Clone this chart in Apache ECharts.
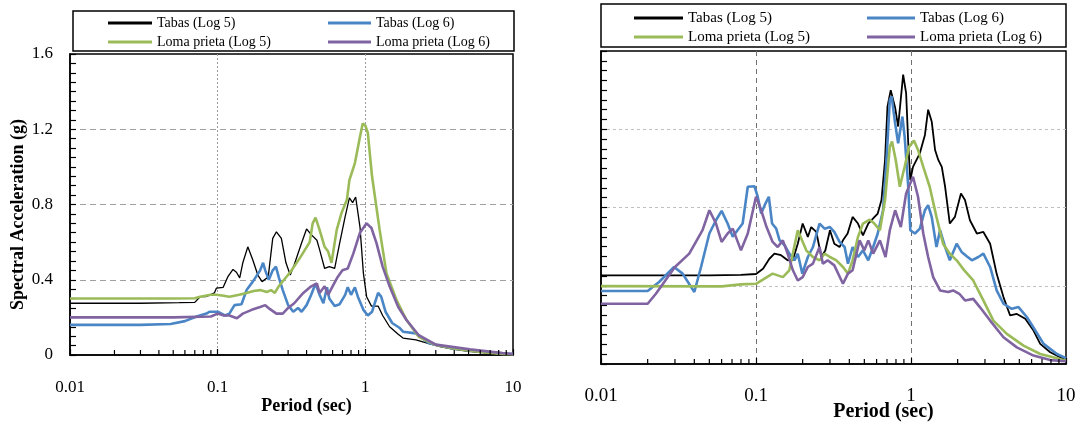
<!DOCTYPE html>
<html>
<head>
<meta charset="utf-8">
<script src="https://cdn.jsdelivr.net/npm/echarts@6/dist/echarts.min.js"></script>
<style>
  html, body { margin: 0; padding: 0; background: #fff; }
  #chart { width: 1078px; height: 423px; }
</style>
</head>
<body>
<div id="chart"></div>
<script>
// Response spectra: [period (s), spectral acceleration (g)]
const tabas5Left = [[0.01,0.275],[0.03,0.275],[0.055,0.278],[0.07,0.28],[0.076,0.31],[0.083,0.31],[0.089,0.32],[0.095,0.33],[0.098,0.355],[0.109,0.36],[0.117,0.415],[0.127,0.455],[0.134,0.44],[0.141,0.41],[0.148,0.49],[0.16,0.575],[0.173,0.505],[0.187,0.425],[0.2,0.39],[0.22,0.415],[0.236,0.62],[0.25,0.655],[0.27,0.62],[0.29,0.49],[0.31,0.425],[0.33,0.48],[0.37,0.595],[0.4,0.67],[0.43,0.64],[0.47,0.61],[0.49,0.56],[0.53,0.46],[0.57,0.47],[0.62,0.46],[0.67,0.595],[0.73,0.735],[0.78,0.835],[0.82,0.81],[0.86,0.84],[0.92,0.68],[0.97,0.435],[1.02,0.31],[1.1,0.26],[1.22,0.26],[1.31,0.21],[1.46,0.15],[1.67,0.11],[1.8,0.09],[2.2,0.08],[2.7,0.06],[3.2,0.045],[4,0.03],[5,0.02],[6.5,0.012],[8,0.006],[10,0.004]];
const tabas6Left = [[0.01,0.16],[0.03,0.16],[0.048,0.165],[0.06,0.18],[0.072,0.205],[0.084,0.22],[0.088,0.23],[0.1,0.23],[0.112,0.21],[0.12,0.22],[0.13,0.265],[0.145,0.27],[0.157,0.345],[0.173,0.39],[0.194,0.45],[0.203,0.49],[0.21,0.45],[0.222,0.40],[0.236,0.45],[0.248,0.47],[0.26,0.41],[0.276,0.345],[0.30,0.265],[0.325,0.23],[0.35,0.25],[0.37,0.23],[0.40,0.265],[0.43,0.32],[0.46,0.38],[0.49,0.32],[0.52,0.275],[0.55,0.36],[0.57,0.30],[0.62,0.26],[0.67,0.27],[0.73,0.32],[0.76,0.36],[0.8,0.32],[0.85,0.36],[0.89,0.31],[0.97,0.24],[1.04,0.21],[1.11,0.23],[1.22,0.33],[1.28,0.31],[1.37,0.23],[1.52,0.17],[1.7,0.145],[1.8,0.124],[2.2,0.115],[2.7,0.063],[3.9,0.035],[6.7,0.015],[10,0.005]];
const loma5Left = [[0.01,0.30],[0.05,0.30],[0.07,0.302],[0.076,0.31],[0.09,0.32],[0.098,0.32],[0.11,0.315],[0.12,0.31],[0.14,0.32],[0.157,0.33],[0.175,0.34],[0.194,0.345],[0.215,0.335],[0.23,0.345],[0.244,0.33],[0.26,0.367],[0.31,0.44],[0.36,0.515],[0.42,0.60],[0.44,0.70],[0.46,0.73],[0.49,0.665],[0.53,0.575],[0.56,0.55],[0.59,0.49],[0.64,0.665],[0.69,0.755],[0.75,0.825],[0.78,0.93],[0.85,1.02],[0.92,1.16],[0.96,1.23],[1.0,1.22],[1.04,1.18],[1.11,0.95],[1.25,0.665],[1.39,0.435],[1.63,0.29],[1.9,0.186],[2.3,0.097],[3.0,0.053],[4,0.035],[5.1,0.023],[6.5,0.014],[8.5,0.006],[10,0.004]];
const loma6Left = [[0.01,0.20],[0.05,0.20],[0.09,0.205],[0.1,0.22],[0.11,0.21],[0.12,0.21],[0.135,0.195],[0.148,0.22],[0.17,0.24],[0.194,0.255],[0.21,0.265],[0.225,0.245],[0.25,0.22],[0.276,0.22],[0.30,0.25],[0.33,0.275],[0.38,0.33],[0.43,0.365],[0.47,0.38],[0.49,0.33],[0.53,0.365],[0.56,0.32],[0.6,0.365],[0.65,0.415],[0.70,0.45],[0.76,0.46],[0.83,0.54],[0.92,0.65],[1.02,0.70],[1.1,0.675],[1.19,0.595],[1.31,0.47],[1.46,0.365],[1.67,0.255],[1.9,0.186],[2.3,0.105],[3.0,0.055],[5.1,0.03],[8.5,0.01],[10,0.005]];

const tabas5Right = [[0.01,0.453],[0.05,0.453],[0.08,0.456],[0.1,0.46],[0.111,0.487],[0.122,0.538],[0.1315,0.564],[0.145,0.556],[0.16,0.53],[0.173,0.533],[0.186,0.615],[0.20,0.718],[0.216,0.65],[0.227,0.70],[0.245,0.675],[0.264,0.547],[0.28,0.58],[0.30,0.684],[0.32,0.615],[0.346,0.598],[0.364,0.632],[0.39,0.667],[0.42,0.752],[0.455,0.718],[0.49,0.658],[0.53,0.718],[0.57,0.744],[0.61,0.769],[0.645,0.838],[0.68,1.043],[0.705,1.316],[0.74,1.40],[0.79,1.31],[0.826,1.214],[0.89,1.479],[0.93,1.385],[0.96,1.128],[0.99,0.94],[1.03,1.008],[1.14,1.077],[1.23,1.171],[1.29,1.30],[1.36,1.24],[1.43,1.094],[1.5,1.043],[1.58,1.008],[1.66,0.906],[1.78,0.718],[1.92,0.752],[2.1,0.872],[2.23,0.838],[2.4,0.735],[2.66,0.667],[2.93,0.675],[3.24,0.615],[3.57,0.461],[3.95,0.342],[4.36,0.248],[4.82,0.256],[5.46,0.231],[6.17,0.171],[6.82,0.103],[7.91,0.06],[10,0.02]];
const tabas6Right = [[0.01,0.373],[0.02,0.373],[0.0237,0.419],[0.0296,0.496],[0.0336,0.462],[0.04,0.368],[0.0442,0.496],[0.05,0.667],[0.0552,0.735],[0.06,0.783],[0.0656,0.718],[0.0708,0.65],[0.076,0.684],[0.082,0.718],[0.0885,0.906],[0.0977,0.909],[0.1026,0.855],[0.108,0.769],[0.115,0.82],[0.121,0.855],[0.127,0.718],[0.135,0.692],[0.142,0.632],[0.153,0.607],[0.164,0.564],[0.177,0.53],[0.186,0.564],[0.199,0.462],[0.216,0.547],[0.233,0.598],[0.257,0.718],[0.277,0.692],[0.30,0.70],[0.32,0.675],[0.346,0.624],[0.373,0.598],[0.392,0.513],[0.42,0.598],[0.455,0.547],[0.49,0.581],[0.53,0.53],[0.57,0.598],[0.61,0.667],[0.66,0.786],[0.695,1.043],[0.73,1.35],[0.75,1.368],[0.79,1.23],[0.826,1.128],[0.88,1.265],[0.91,1.162],[0.96,0.906],[0.99,0.684],[1.06,0.667],[1.14,0.692],[1.23,0.786],[1.29,0.812],[1.36,0.752],[1.46,0.598],[1.54,0.684],[1.66,0.598],[1.78,0.53],[1.97,0.615],[2.12,0.573],[2.3,0.55],[2.47,0.53],[2.72,0.547],[2.93,0.564],[3.24,0.496],[3.57,0.376],[3.95,0.308],[4.47,0.282],[4.94,0.291],[5.6,0.239],[6.34,0.171],[7.17,0.103],[8.74,0.051],[10,0.03]];
const loma5Right = [[0.01,0.398],[0.06,0.397],[0.08,0.407],[0.1,0.41],[0.103,0.40],[0.128,0.462],[0.149,0.444],[0.164,0.479],[0.186,0.684],[0.211,0.581],[0.233,0.547],[0.257,0.53],[0.277,0.564],[0.30,0.547],[0.33,0.53],[0.364,0.496],[0.392,0.462],[0.42,0.53],[0.455,0.65],[0.49,0.718],[0.542,0.738],[0.58,0.718],[0.63,0.684],[0.68,0.838],[0.73,1.111],[0.754,1.137],[0.797,1.043],[0.847,0.906],[0.91,1.008],[0.973,1.111],[1.045,1.142],[1.11,1.094],[1.2,1.008],[1.32,0.906],[1.46,0.752],[1.61,0.615],[1.78,0.564],[1.97,0.53],[2.2,0.48],[2.52,0.427],[2.93,0.325],[3.4,0.222],[4.15,0.154],[5.32,0.094],[6.82,0.051],[8.74,0.029],[10,0.017]];
const loma6Right = [[0.01,0.308],[0.02,0.308],[0.0226,0.359],[0.03,0.496],[0.0371,0.564],[0.0452,0.684],[0.05,0.786],[0.0552,0.718],[0.06,0.624],[0.0656,0.667],[0.0708,0.692],[0.08,0.581],[0.0885,0.667],[0.1,0.855],[0.108,0.786],[0.117,0.70],[0.128,0.624],[0.138,0.598],[0.149,0.632],[0.16,0.564],[0.173,0.479],[0.186,0.427],[0.20,0.444],[0.216,0.496],[0.233,0.513],[0.257,0.598],[0.27,0.513],[0.29,0.53],[0.32,0.504],[0.364,0.41],[0.392,0.462],[0.42,0.479],[0.466,0.632],[0.50,0.581],[0.53,0.632],[0.57,0.564],[0.63,0.632],[0.685,0.547],[0.73,0.684],[0.79,0.786],[0.86,0.70],[0.93,0.872],[1.03,0.957],[1.11,0.855],[1.2,0.667],[1.29,0.547],[1.39,0.444],[1.54,0.376],[1.74,0.368],[1.87,0.376],[2.05,0.359],[2.23,0.325],[2.52,0.333],[2.78,0.291],[3.24,0.222],[3.95,0.137],[4.82,0.085],[6.17,0.043],[7.91,0.02],[10,0.014]];

const seriesNames = ['Tabas (Log 5)', 'Tabas (Log 6)', 'Loma prieta (Log 5)', 'Loma prieta (Log 6)'];
const minorTickPeriods = [0.02,0.03,0.04,0.05,0.06,0.07,0.08,0.09,0.2,0.3,0.4,0.5,0.6,0.7,0.8,0.9,2,3,4,5,6,7,8,9];

const FONT = 'Liberation Serif';
const colors = { black: '#000000', blue: '#4a86c6', green: '#9bbb59', purple: '#8064a2' };

function xAxisFor(gridIndex, labelSize, labelMargin, nameSize, nameGap, namePadLeft, vLine) {
  return {
    type: 'log', logBase: 10, min: 0.01, max: 10, gridIndex,
    name: 'Period (sec)', nameLocation: 'middle', nameGap, nameMoveOverlap: false,
    nameTextStyle: { fontFamily: FONT, fontSize: nameSize, fontWeight: 'bold', color: '#000', padding: [0, 0, 0, namePadLeft] },
    axisLine: { lineStyle: { color: '#000', width: 1.5 } },
    axisTick: { inside: true, length: 6, lineStyle: { color: '#000', width: 1.2 } },
    axisLabel: { fontFamily: FONT, fontSize: labelSize, color: '#000', margin: labelMargin,
      formatter: v => String(+(+v).toPrecision(3)) },
    splitLine: { show: true, showMinLine: false, showMaxLine: false, lineStyle: vLine }
  };
}

function yAxisFor(gridIndex, showLabels, hLine) {
  const ax = {
    type: 'value', min: 0, max: 1.6, interval: 0.4, gridIndex,
    axisLine: { show: true, lineStyle: { color: '#000', width: 1.5 } },
    axisTick: { show: true, inside: true, length: 6, lineStyle: { color: '#000', width: 1.2 } },
    minorTick: { show: true, splitNumber: 8, length: 6, lineStyle: { color: '#000', width: 1.2 } },
    axisLabel: { show: showLabels, fontFamily: FONT, fontSize: 17, color: '#000', margin: 17 },
    splitLine: { show: true, showMinLine: false, showMaxLine: false, lineStyle: hLine }
  };
  if (showLabels) {
    ax.name = 'Spectral Acceleration (g)';
    ax.nameLocation = 'middle';
    ax.nameGap = 43;
    ax.nameMoveOverlap = false;
    ax.nameTextStyle = { fontFamily: FONT, fontSize: 18, fontWeight: 'bold', color: '#000', padding: [0, 20, 0, 0] };
  }
  return ax;
}

function legendColumn(left, top, names, itemWidth, fontSize) {
  return {
    left, top, orient: 'vertical', padding: 0, itemGap: 3,
    itemWidth, itemHeight: 3, selectedMode: false,
    data: names.map(n => ({ name: n, icon: 'rect' })),
    textStyle: { fontFamily: FONT, fontSize, color: '#000', lineHeight: 16 }
  };
}

function lineSeries(name, data, color, width, gi) {
  return {
    type: 'line', name, data, xAxisIndex: gi, yAxisIndex: gi,
    symbol: 'none', smooth: false, clip: true,
    lineStyle: { color, width }, itemStyle: { color }
  };
}

function minorTickSeries(gi) {
  return {
    type: 'custom', xAxisIndex: gi, yAxisIndex: gi, silent: true, clip: false, z: 5,
    data: minorTickPeriods.map(p => [p, 0]),
    renderItem: (params, api) => {
      const pt = api.coord([api.value(0), 0]);
      return { type: 'line', shape: { x1: pt[0], y1: pt[1], x2: pt[0], y2: pt[1] - 5 },
        style: { stroke: '#000', lineWidth: 1.2 } };
    }
  };
}

const chart = echarts.init(document.getElementById('chart'), null, { renderer: 'canvas' });

const leftV = { color: '#9a9a9a', width: 1, type: [2, 2] };
const leftH = { color: '#a0a0a0', width: 1, type: [6, 4] };
const rightV = { color: '#707070', width: 1, type: [5, 4] };
const rightH = { color: '#c0c0c0', width: 1, type: [3, 3] };

chart.setOption({
  animation: false,
  backgroundColor: '#ffffff',
  textStyle: { fontFamily: FONT },
  grid: [
    { left: 70, top: 54, width: 443, height: 301, outerBoundsMode: 'none', containLabel: false,
      show: true, borderColor: '#000', borderWidth: 1.5, backgroundColor: 'transparent' },
    { left: 601, top: 51, width: 465, height: 313, outerBoundsMode: 'none', containLabel: false,
      show: true, borderColor: '#000', borderWidth: 1.5, backgroundColor: 'transparent' }
  ],
  xAxis: [
    xAxisFor(0, 17, 24, 18, 42, 30, leftV),
    xAxisFor(1, 19, 23, 20, 38, 100, rightV)
  ],
  yAxis: [
    yAxisFor(0, true, leftH),
    yAxisFor(1, false, rightH)
  ],
  legend: [
    legendColumn(108, 15, [seriesNames[0], seriesNames[2]], 44, 14),
    legendColumn(328, 15, [seriesNames[1], seriesNames[3]], 43, 14),
    legendColumn(634, 10, [seriesNames[0], seriesNames[2]], 49, 15),
    legendColumn(867, 10, [seriesNames[1], seriesNames[3]], 48, 15)
  ],
  graphic: [
    { type: 'rect', shape: { x: 73, y: 11, width: 441, height: 40 }, style: { fill: 'none', stroke: '#000', lineWidth: 1.5 } },
    { type: 'rect', shape: { x: 601, y: 4, width: 465, height: 43 }, style: { fill: 'none', stroke: '#000', lineWidth: 1.5 } }
  ],
  series: [
    lineSeries(seriesNames[0], tabas5Left, colors.black, 1.3, 0),
    lineSeries(seriesNames[1], tabas6Left, colors.blue, 2.6, 0),
    lineSeries(seriesNames[2], loma5Left, colors.green, 2.6, 0),
    lineSeries(seriesNames[3], loma6Left, colors.purple, 2.6, 0),
    lineSeries(seriesNames[0], tabas5Right, colors.black, 1.8, 1),
    lineSeries(seriesNames[1], tabas6Right, colors.blue, 2.6, 1),
    lineSeries(seriesNames[2], loma5Right, colors.green, 2.6, 1),
    lineSeries(seriesNames[3], loma6Right, colors.purple, 2.6, 1),
    minorTickSeries(0),
    minorTickSeries(1)
  ]
});
</script>
</body>
</html>
